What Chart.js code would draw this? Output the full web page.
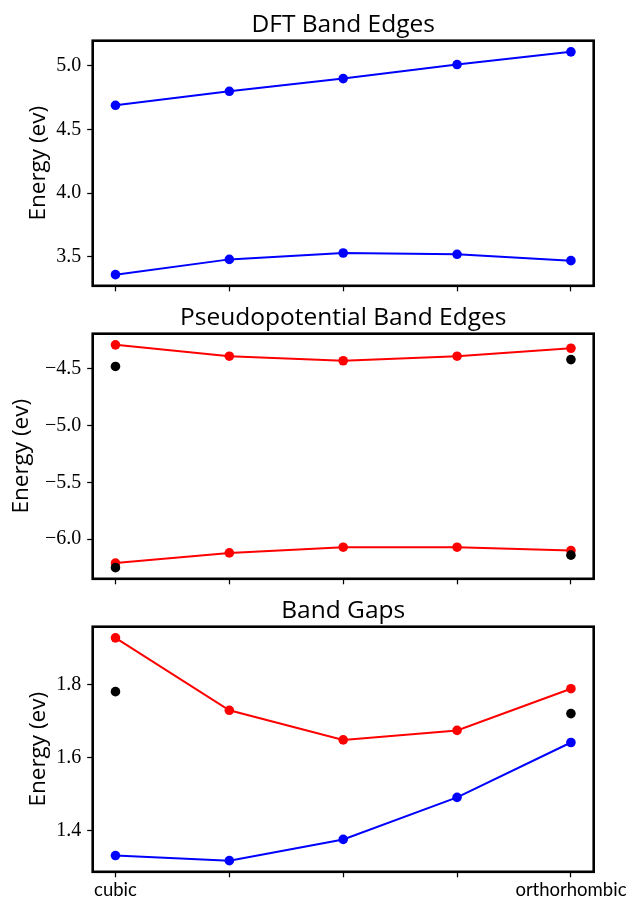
<!DOCTYPE html>
<html>
<head>
<meta charset="utf-8">
<title>Band edges</title>
<script src="https://cdn.jsdelivr.net/npm/chart.js@4.4.1/dist/chart.umd.min.js"></script>
<style>
  html, body { margin: 0; padding: 0; background: #fff; overflow: hidden; }
  #wrap { position: relative; width: 627px; height: 900px; }
  canvas { position: absolute; left: 0; }
</style>
</head>
<body>
<div id="wrap">
  <canvas id="dft" width="627" height="294" style="top:0px"></canvas>
  <canvas id="pseudo" width="627" height="294" style="top:293px"></canvas>
  <canvas id="gaps" width="627" height="314" style="top:586px"></canvas>
</div>
<script>
/* phases along the x axis, only the end points are named */
const phaseX = [0, 1, 2, 3, 4];
const phaseNames = ['cubic', '', '', '', 'orthorhombic'];
const refX = [0, 4];

/* DFT band edges (eV) */
const dftUpper = [4.69, 4.80, 4.90, 5.01, 5.11];
const dftLower = [3.36, 3.48, 3.53, 3.52, 3.47];

/* pseudopotential band edges (eV), black = reference values at the end phases */
const ppUpper  = [-4.29, -4.39, -4.43, -4.39, -4.32];
const ppLower  = [-6.21, -6.12, -6.07, -6.07, -6.10];
const refUpper = [-4.48, -4.42];
const refLower = [-6.25, -6.14];

/* band gaps (eV) */
const gapPP  = [1.927, 1.729, 1.648, 1.674, 1.788];
const gapDFT = [1.332, 1.318, 1.376, 1.491, 1.641];
const gapRef = [1.78, 1.72];

/* y ticks and limits */
const dftTicks = [3.5, 4.0, 4.5, 5.0];
const ppTicks  = [-6.0, -5.5, -5.0, -4.5];
const gapTicks = [1.4, 1.6, 1.8];
const dftLim = [3.2725, 5.1975];
const ppLim  = [-6.348, -4.192];
const gapLim = [1.2875, 1.9575];

const SANS  = '"Open Sans", Lato, sans-serif';
const SANS_TICK = 'Lato, "Open Sans", sans-serif';
const SERIF = '"Liberation Serif", "DejaVu Serif", serif';
const BLUE = '#0000ff', RED = '#ff0000', BLACK = '#000000';

const AXIS_W = 92.7;      // width of the y axis box
const AREA_RIGHT = 593.7; // right edge of the plot frame

const pts = (xs, ys) => ys.map((y, i) => ({ x: xs[i], y }));

function line(color, ys) {
  return {
    data: pts(phaseX, ys),
    borderColor: color,
    backgroundColor: color,
    borderWidth: 2,
    pointRadius: 4.8,
    pointHoverRadius: 4.8,
    pointBorderWidth: 0,
    tension: 0,
    order: 1,
  };
}

function refDots(ys) {
  return {
    data: pts(refX, ys),
    showLine: false,
    borderColor: BLACK,
    backgroundColor: BLACK,
    pointRadius: 4.8,
    pointHoverRadius: 4.8,
    pointBorderWidth: 0,
    order: 0,
  };
}

/* matplotlib-like box around the plot area */
const frame = {
  id: 'frame',
  afterDatasetsDraw(chart) {
    const { ctx, chartArea: a } = chart;
    ctx.save();
    ctx.strokeStyle = '#000';
    ctx.lineWidth = 2.6;
    ctx.strokeRect(a.left, a.top, a.right - a.left, a.bottom - a.top);
    ctx.restore();
  },
};

const tickGrid = {
  drawOnChartArea: false,
  drawTicks: true,
  tickLength: 5.5,
  tickWidth: 1.25,
  tickColor: '#000',
};

function panel(id, cfg) {
  return new Chart(document.getElementById(id), {
    type: 'line',
    data: { datasets: cfg.datasets },
    plugins: [frame],
    options: {
      responsive: false,
      animation: false,
      events: [],
      layout: { padding: { left: 0, top: 0, bottom: 0, right: 627 - AREA_RIGHT } },
      plugins: {
        legend: { display: false },
        tooltip: { enabled: false },
        title: {
          display: true,
          text: cfg.title,
          fullSize: false,
          color: '#000',
          font: { family: SANS, size: 24.5, weight: 'normal' },
          padding: { top: 10.3, bottom: 1 },
        },
      },
      scales: {
        x: {
          type: 'linear',
          min: -0.2,
          max: 4.2,
          afterBuildTicks: s => { s.ticks = phaseX.map(v => ({ value: v })); },
          afterFit: s => { s.height = cfg.xHeight; s.paddingLeft = 0; s.paddingRight = 0; },
          grid: tickGrid,
          border: { display: false },
          ticks: {
            display: cfg.showNames,
            autoSkip: false,
            maxRotation: 0,
            minRotation: 0,
            padding: 2,
            color: '#000',
            font: { family: SANS_TICK, size: 18.5 },
            callback: v => phaseNames[phaseX.indexOf(v)] ?? '',
          },
        },
        y: {
          min: cfg.lim[0],
          max: cfg.lim[1],
          afterBuildTicks: s => { s.ticks = cfg.ticks.map(v => ({ value: v })); },
          afterFit: s => { s.width = AXIS_W; s.paddingTop = 0; s.paddingBottom = 0; },
          grid: tickGrid,
          border: { display: false },
          ticks: {
            padding: 6,
            color: '#000',
            font: { family: SERIF, size: 20 },
            callback: v => (v < 0 ? '\u2212' : '') + Math.abs(v).toFixed(1),
          },
          title: {
            display: true,
            text: 'Energy (ev)',
            color: '#000',
            font: { family: SANS, size: 22.5 },
            padding: { top: cfg.labelPad, bottom: 0 },
          },
        },
      },
    },
  });
}

panel('dft', {
  title: 'DFT Band Edges',
  datasets: [line(BLUE, dftUpper), line(BLUE, dftLower)],
  ticks: dftTicks, lim: dftLim,
  xHeight: 8.2, showNames: false, labelPad: 25,
});

panel('pseudo', {
  title: 'Pseudopotential Band Edges',
  datasets: [refDots(refUpper), refDots(refLower), line(RED, ppUpper), line(RED, ppLower)],
  ticks: ppTicks, lim: ppLim,
  xHeight: 8.2, showNames: false, labelPad: 8,
});

panel('gaps', {
  title: 'Band Gaps',
  datasets: [refDots(gapRef), line(RED, gapPP), line(BLUE, gapDFT)],
  ticks: gapTicks, lim: gapLim,
  xHeight: 28.2, showNames: true, labelPad: 25,
});
</script>
</body>
</html>
